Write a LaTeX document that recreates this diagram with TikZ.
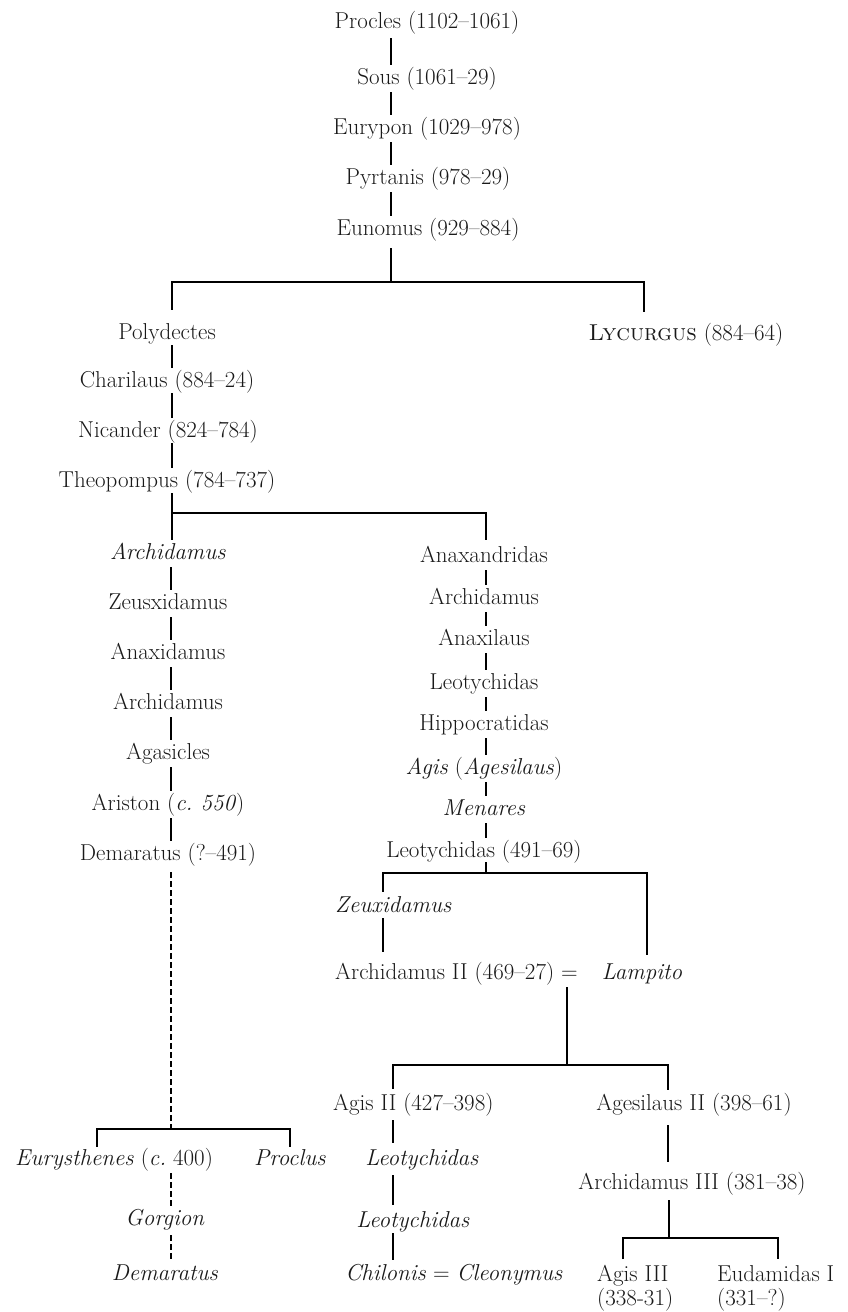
\documentclass[tikz,border=0pt]{standalone}
\usepackage{tikz}
\usetikzlibrary{positioning,calc}

\newcommand{\kingfont}{\fontsize{23}{27}\selectfont}
\newcommand{\pairfont}{\fontsize{23}{24}\selectfont}

\begin{document}
\begin{tikzpicture}[
  x=1pt,y=-1pt,
  king/.style={inner sep=0pt,text height=15pt,text depth=4pt,
               font=\kingfont,text=black!90},
  kingl/.style={king,anchor=west},
  pair/.style={inner sep=0pt,align=left,anchor=north west,
               font=\pairfont,text=black!90},
  line/.style={black,line width=1.8pt},
  link/.style={line,shorten <=4pt,shorten >=4pt},
  dlink/.style={line,dash pattern=on 6pt off 3pt}
]
  \useasboundingbox (0,0) rectangle (848,1312);

  % bar junctions
  \coordinate (j1) at (391,282);  \coordinate (b1l) at (172,282);  \coordinate (b1r) at (644,282);
  \coordinate (b2l) at (172,513); \coordinate (b2r) at (486,513);
  \coordinate (j3) at (486,873);  \coordinate (b3l) at (383,873);  \coordinate (b3r) at (647,873);
  \coordinate (j4) at (567,1065); \coordinate (b4l) at (393,1065); \coordinate (b4r) at (668,1065);
  \coordinate (j5) at (669,1238); \coordinate (b5l) at (623,1238); \coordinate (b5r) at (778,1238);
  \coordinate (j6) at (171,1129); \coordinate (b6l) at (97,1129);  \coordinate (b6r) at (290,1129);

  % top line
  \node[king](procles)  at (427,22.5) {Procles (1102--1061)};
  \node[king](sous)     at (427,78.5) {Sous (1061--29)};
  \node[king](eurypon)  at (427,128.5){Eurypon (1029--978)};
  \node[king](pyrtanis) at (428,178.5){Pyrtanis (978--29)};
  \node[king](eunomus)  at (428,229.5){Eunomus (929--884)};

  \node[king](polydectes) at (167,333.5){Polydectes};
  \node[king](lycurgus)   at (686,334.5){\textsc{Lycurgus} (884--64)};
  \node[king](charilaus)  at (167,381.5){Charilaus (884--24)};
  \node[king](nicander)   at (168,431.5){Nicander (824--784)};
  \node[king](theopompus) at (167,481.5){Theopompus (784--737)};

  % left branch
  \node[king](archidamusA) at (168,553.5){\textit{Archidamus}};
  \node[king](zeusxidamus) at (168,603.5){Zeusxidamus};
  \node[king](anaxidamus)  at (168,653.5){Anaxidamus};
  \node[king](archidamusB) at (168,703.5){Archidamus};
  \node[king](agasicles)   at (168,753.5){Agasicles};
  \node[king](ariston)     at (168,804.5){Ariston (\textit{c.\ 550})};
  \node[king](demaratusA)  at (168,854.5){Demaratus (?--491)};
  \node[king](eurysthenes) at (114,1159.5){\textit{Eurysthenes} (\textit{c.}\ 400)};
  \node[king](proclus)     at (290,1159.5){\textit{Proclus}};
  \node[king](gorgion)     at (165,1219.5){\textit{Gorgion}};
  \node[king](demaratusB)  at (165,1274.5){\textit{Demaratus}};

  % right branch
  \node[king](anaxandridas)  at (484,556.5){Anaxandridas};
  \node[king](archidamusC)   at (484,598.5){Archidamus};
  \node[king](anaxilaus)     at (484,639.5){Anaxilaus};
  \node[king](leotychidasA)  at (484,683.5){Leotychidas};
  \node[king](hippocratidas) at (484,724.5){Hippocratidas};
  \node[king](agis)          at (484,768.5){\textit{Agis} (\textit{Agesilaus})};
  \node[king](menares)       at (484,809.5){\textit{Menares}};
  \node[king](leotychidasB)  at (484,851.5){Leotychidas (491--69)};

  \node[kingl](zeuxidamus)   at (335,906.5){\textit{Zeuxidamus}};
  \node[kingl](archidamusII) at (335,973.5){Archidamus II (469--27) =};
  \node[king](lampito)       at (642,973.5){\textit{Lampito}};

  \node[kingl](agisII)       at (333,1104.5){Agis II (427--398)};
  \node[king](leotychidasC)  at (422,1159.5){\textit{Leotychidas}};
  \node[king](leotychidasD)  at (413,1221.5){\textit{Leotychidas}};
  \node[king](chilonis)      at (454,1274.5){\textit{Chilonis} = \textit{Cleonymus}};

  \node[king](agesilaus)     at (694,1104.5){Agesilaus II (398--61)};
  \node[king](archidamusIII) at (692,1183.5){Archidamus III (381--38)};
  \node[pair](agisIII)       at (597,1265){Agis III\\(338-31)};
  \node[pair](eudamidas)     at (717,1265){Eudamidas I\\(331--?)};

  % connectors
  \draw[link,shorten <=6pt](procles.south -| j1)--(sous.north -| j1);
  \draw[link](sous.south -| j1)--(eurypon.north -| j1);
  \draw[link](eurypon.south -| j1)--(pyrtanis.north -| j1);
  \draw[link](pyrtanis.south -| j1)--(eunomus.north -| j1);
  \draw[line,shorten <=9pt](eunomus.south -| j1)--(j1);
  \draw[line,shorten <=14pt,shorten >=13pt](polydectes.north -| b1l)--(b1l)--(b1r)--(lycurgus.north -| b1r);

  \draw[link,shorten <=2pt](polydectes.south -| b1l)--(charilaus.north -| b1l);
  \draw[link,shorten <=2pt](charilaus.south -| b1l)--(nicander.north -| b1l);
  \draw[link,shorten <=2pt](nicander.south -| b1l)--(theopompus.north -| b1l);
  \draw[line,shorten <=2pt,shorten >=4pt](theopompus.south -| b2l)--(archidamusA.north -| b2l);
  \draw[line,shorten >=7pt](b2l)--(b2r)--(anaxandridas.north -| b2r);

  \draw[link](archidamusA.south -| j6)--(zeusxidamus.north -| j6);
  \draw[link](zeusxidamus.south -| j6)--(anaxidamus.north -| j6);
  \draw[link](anaxidamus.south -| j6)--(archidamusB.north -| j6);
  \draw[link](archidamusB.south -| j6)--(agasicles.north -| j6);
  \draw[link](agasicles.south -| j6)--(ariston.north -| j6);
  \draw[link](ariston.south -| j6)--(demaratusA.north -| j6);
  \draw[dlink,shorten <=8pt](demaratusA.south -| j6)--(j6);
  \draw[line,shorten <=3pt,shorten >=3pt](eurysthenes.north -| b6l)--(b6l)--(b6r)--(proclus.north -| b6r);
  \draw[dlink,shorten <=4pt,shorten >=2pt](eurysthenes.south -| j6)--(gorgion.north -| j6);
  \draw[dlink,shorten <=6pt,shorten >=5pt](gorgion.south -| j6)--(demaratusB.north -| j6);

  \draw[link](anaxandridas.south -| j3)--(archidamusC.north -| j3);
  \draw[link](archidamusC.south -| j3)--(anaxilaus.north -| j3);
  \draw[link](anaxilaus.south -| j3)--(leotychidasA.north -| j3);
  \draw[link](leotychidasA.south -| j3)--(hippocratidas.north -| j3);
  \draw[link](hippocratidas.south -| j3)--(agis.north -| j3);
  \draw[link](agis.south -| j3)--(menares.north -| j3);
  \draw[link](menares.south -| j3)--(leotychidasB.north -| j3);
  \draw[line,shorten <=1pt](leotychidasB.south -| j3)--(j3);
  \draw[line,shorten <=5pt,shorten >=9pt](zeuxidamus.north -| b3l)--(b3l)--(b3r)--(lampito.north -| b3r);
  \draw[line,shorten <=2pt,shorten >=12pt](zeuxidamus.south -| b3l)--(archidamusII.north -| b3l);

  \draw[line,shorten <=4pt](archidamusII.south -| j4)--(j4);
  \draw[line,shorten <=6pt,shorten >=5pt](agisII.north -| b4l)--(b4l)--(b4r)--(agesilaus.north -| b4r);
  \draw[line,shorten <=6pt,shorten >=7pt](agisII.south -| b4l)--(leotychidasC.north -| b4l);
  \draw[line,shorten <=6pt,shorten >=7pt](leotychidasC.south -| b4l)--(leotychidasD.north -| b4l);
  \draw[line,shorten <=2pt,shorten >=5pt](leotychidasD.south -| b4l)--(chilonis.north -| b4l);

  \draw[line,shorten <=11pt,shorten >=12pt](agesilaus.south -| b4r)--(archidamusIII.north -| b4r);
  \draw[line,shorten <=7pt](archidamusIII.south -| j5)--(j5);
  \draw[line,shorten <=6pt,shorten >=6pt](agisIII.north -| b5l)--(b5l)--(b5r)--(eudamidas.north -| b5r);
\end{tikzpicture}
\end{document}
